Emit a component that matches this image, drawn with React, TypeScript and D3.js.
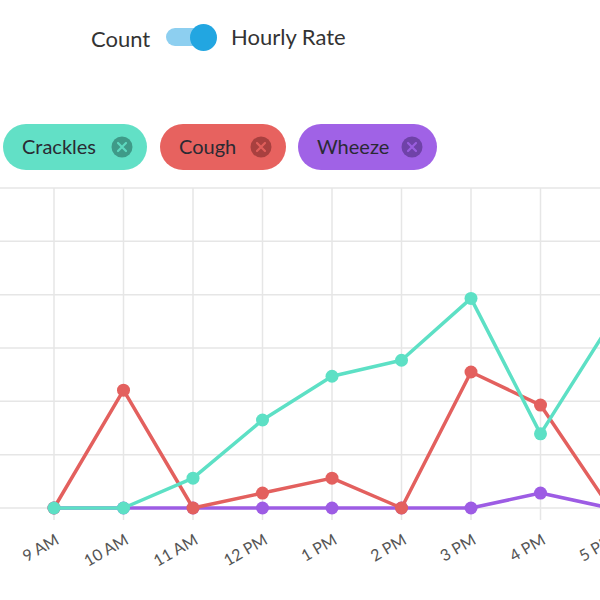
import React from "react";
import * as d3 from "d3";

const hours = ["9 AM", "10 AM", "11 AM", "12 PM", "1 PM", "2 PM", "3 PM", "4 PM", "5 PM"];
const crackles = [0, 0, 0.56, 1.65, 2.47, 2.77, 3.93, 1.39, 3.45];
const cough = [0, 2.21, 0, 0.28, 0.56, 0, 2.55, 1.93, 0];
const wheeze = [0, 0, 0, 0, 0, 0, 0, 0.28, 0];
const yTicks = [0, 1, 2, 3, 4, 5, 6];

const seriesNames = ["Crackles", "Cough", "Wheeze"];
const lineColors = ["#5de0c5", "#e3605e", "#9d5ce4"];
const chipColors = ["#62e0c6", "#e7625f", "#a062e6"];
const iconColors = ["#3f9a88", "#a8403f", "#6f42a8"];

export default function App() {
  const x = d3.scalePoint<string>().domain(hours).range([54, 610]);
  const y = d3.scaleLinear().domain([0, 6]).range([508, 188]);
  const line = d3
    .line<number>()
    .x((_, i) => x(hours[i]) as number)
    .y((d) => y(d));

  const series = [
    { name: "Wheeze", data: wheeze, color: lineColors[2] },
    { name: "Cough", data: cough, color: lineColors[1] },
    { name: "Crackles", data: crackles, color: lineColors[0] },
  ];

  const chipX = d3.scaleOrdinal<string, number>().domain(seriesNames).range([3, 160, 298]);
  const chipW = d3.scaleOrdinal<string, number>().domain(seriesNames).range([144, 126, 139]);

  const font = "Lato, 'Open Sans', sans-serif";

  return (
    <svg
      width={600}
      height={600}
      style={{ position: "absolute", left: 0, top: 0, background: "#fff" }}
      fontFamily={font}
    >
      {/* toggle */}
      <text x={91} y={47} fontSize={22} fill="#333">Count</text>
      <rect x={166} y={28} width={36} height={18} rx={9} fill="#8dcff0" />
      <circle cx={203.5} cy={37.5} r={13.5} fill="#22a6e1" />
      <text x={231} y={45} fontSize={22} fill="#333">Hourly Rate</text>

      {/* chips */}
      {seriesNames.map((n, i) => {
        const cx = chipX(n);
        const w = chipW(n);
        return (
          <g key={n}>
            <rect x={cx} y={124} width={w} height={46} rx={23} fill={chipColors[i]} />
            <text x={cx + 19} y={154} fontSize={20} fill="#2a2a33">{n}</text>
            <circle cx={cx + w - 25} cy={147} r={10.5} fill={iconColors[i]} />
            <path
              d={`M${cx + w - 29},${143} L${cx + w - 21},${151} M${cx + w - 21},${143} L${cx + w - 29},${151}`}
              stroke={chipColors[i]}
              strokeWidth={2.2}
              strokeLinecap="round"
              opacity={0.9}
            />
          </g>
        );
      })}

      {/* grid */}
      {yTicks.map((t) => (
        <line key={"h" + t} x1={0} x2={600} y1={y(t)} y2={y(t)} stroke="#e6e6e6" strokeWidth={1.5} />
      ))}
      {hours.map((h) => (
        <line key={"v" + h} x1={x(h)} x2={x(h)} y1={y(6)} y2={520} stroke="#e6e6e6" strokeWidth={1.5} />
      ))}

      {/* lines */}
      {series.map((s) => (
        <g key={s.name}>
          <path d={line(s.data) || ""} fill="none" stroke={s.color} strokeWidth={3.5} strokeLinejoin="round" />
          {s.data.map((v, i) => (
            <circle key={i} cx={x(hours[i])} cy={y(v)} r={6.5} fill={s.color} />
          ))}
        </g>
      ))}

      {/* x labels */}
      {hours.map((h) => (
        <text
          key={"l" + h}
          transform={`translate(${(x(h) as number) + 6},${543}) rotate(-30)`}
          textAnchor="end"
          fontSize={16}
          fill="#555"
        >
          {h}
        </text>
      ))}
    </svg>
  );
}
